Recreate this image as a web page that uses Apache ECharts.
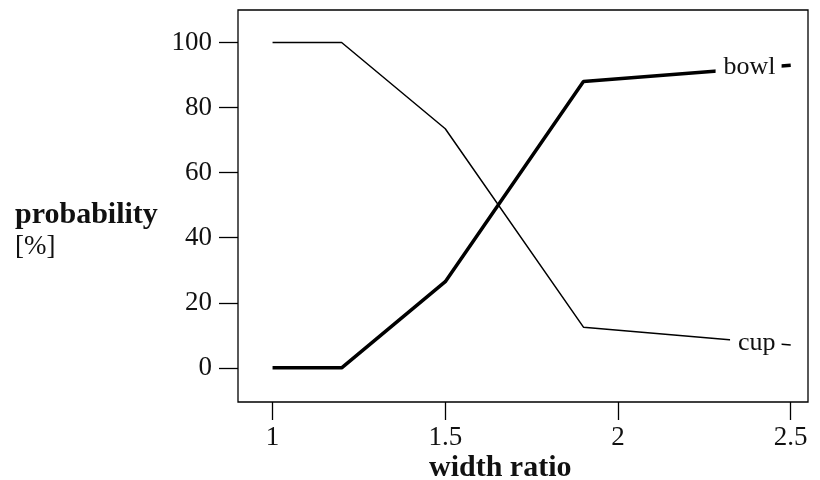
<!DOCTYPE html>
<html>
<head>
<meta charset="utf-8">
<script src="https://cdn.jsdelivr.net/npm/echarts@6/dist/echarts.min.js"></script>
<style>
  html, body { margin: 0; padding: 0; background: #fff; }
  #chart { width: 820px; height: 480px; }
</style>
</head>
<body>
<div id="chart"></div>
<script>
// data
var widthRatio = [1, 1.2, 1.5, 1.9, 2.5];
var cupProb = [100, 100, 73.5, 12.5, 7];
var bowlProb = [0, 0, 26.5, 88, 93];
var xTicks = [1, 1.5, 2, 2.5];
var yTicks = [0, 20, 40, 60, 80, 100];

var FONT = '"Liberation Serif", "DejaVu Serif", serif';
var INK = '#111';

function pairs(xs, ys) {
  return xs.map(function (x, i) { return [x, ys[i]]; });
}

// inline series label that masks the line behind it
function inlineLabel(text, coord) {
  return {
    symbol: 'circle',
    symbolSize: 1,
    silent: true,
    itemStyle: { color: 'rgba(0,0,0,0)' },
    data: [{ coord: coord }],
    label: {
      show: true,
      formatter: text,
      position: 'left',
      distance: 0,
      color: INK,
      fontFamily: FONT,
      fontSize: 26,
      backgroundColor: '#fff',
      padding: [4, 6, 4, 8]
    }
  };
}

var chart = echarts.init(document.getElementById('chart'));

var option = {
  animation: false,
  backgroundColor: '#fff',
  title: [
    {
      text: '{b|probability}\n{n|[%]}',
      left: 10,
      top: 194,
      textStyle: {
        rich: {
          b: { fontFamily: FONT, fontSize: 30, fontWeight: 'bold', color: INK, lineHeight: 32 },
          n: { fontFamily: FONT, fontSize: 27, fontWeight: 'normal', color: INK, lineHeight: 32 }
        }
      }
    },
    {
      text: 'width ratio',
      left: 424,
      top: 448,
      textStyle: { fontFamily: FONT, fontSize: 30, fontWeight: 'bold', color: INK }
    }
  ],
  grid: {
    left: 238,
    right: 12,
    top: 10,
    bottom: 78,
    show: true,
    borderColor: '#000',
    borderWidth: 1.3,
    backgroundColor: 'transparent'
  },
  xAxis: {
    type: 'value',
    min: 0.9,
    max: 2.55,
    splitLine: { show: false },
    axisLine: { show: false, onZero: false },
    axisTick: {
      show: true,
      customValues: xTicks,
      length: 18,
      lineStyle: { color: '#000', width: 1.3 }
    },
    axisLabel: {
      customValues: xTicks,
      margin: 22,
      color: INK,
      fontFamily: FONT,
      fontSize: 27
    }
  },
  yAxis: {
    type: 'value',
    min: -10.5,
    max: 110,
    splitLine: { show: false },
    axisLine: { show: false, onZero: false },
    axisTick: {
      show: true,
      customValues: yTicks,
      length: 19,
      lineStyle: { color: '#000', width: 1.3 }
    },
    axisLabel: {
      customValues: yTicks,
      margin: 26,
      color: INK,
      fontFamily: FONT,
      fontSize: 27
    }
  },
  series: [
    {
      name: 'cup',
      type: 'line',
      data: pairs(widthRatio, cupProb),
      showSymbol: false,
      lineStyle: { color: '#000', width: 1.5 },
      markPoint: inlineLabel('cup', [2.475, 7.6])
    },
    {
      name: 'bowl',
      type: 'line',
      data: pairs(widthRatio, bowlProb),
      showSymbol: false,
      lineStyle: { color: '#000', width: 3.5 },
      markPoint: inlineLabel('bowl', [2.475, 92.4])
    }
  ]
};

chart.setOption(option);
</script>
</body>
</html>
